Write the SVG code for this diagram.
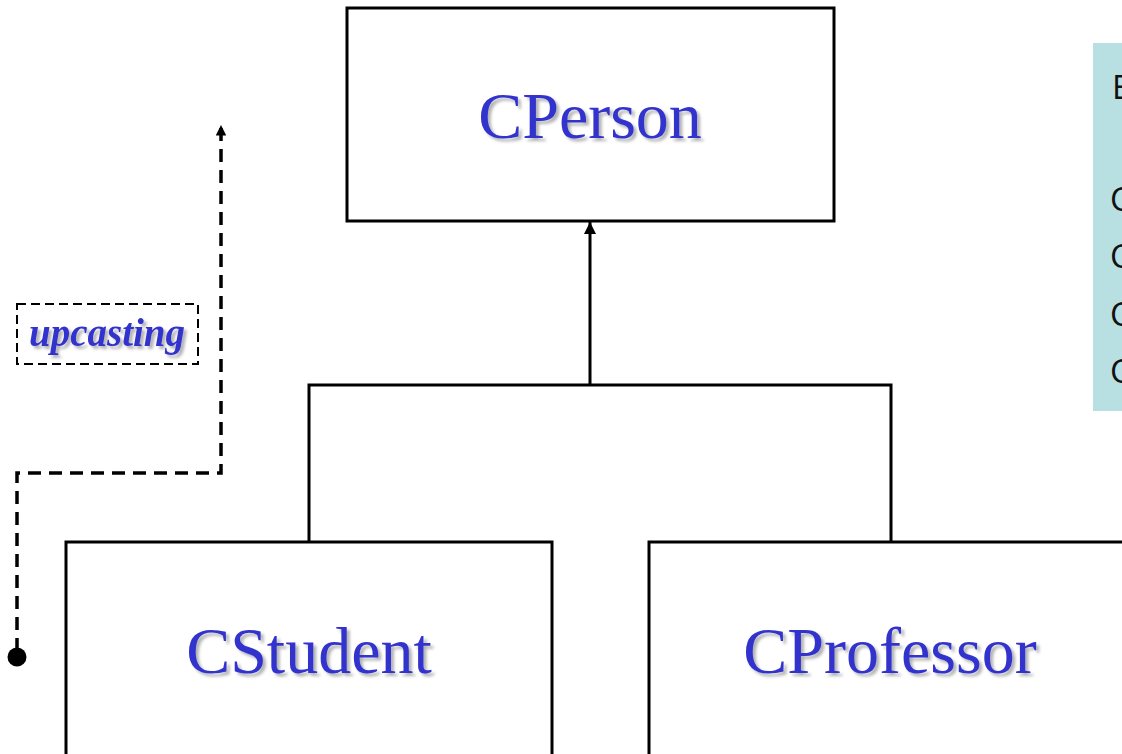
<svg xmlns="http://www.w3.org/2000/svg" width="1122" height="754" viewBox="0 0 1122 754">
<defs>
<style>
.box{fill:#fff;stroke:#000;stroke-width:3}
.lbl{font-family:"Liberation Serif","Times New Roman",serif;fill:#3333cc;text-anchor:middle;filter:url(#sh)}
.side{font-family:"Open Sans","Liberation Sans",sans-serif;font-size:33px;fill:#111}
.conn{fill:none;stroke:#000;stroke-width:3}
.dash{fill:none;stroke:#000;stroke-width:3.5;stroke-dasharray:13 8}
</style>
<filter id="sh" x="-10%" y="-20%" width="130%" height="150%">
<feDropShadow dx="3" dy="3" stdDeviation="1.5" flood-color="#000" flood-opacity="0.3"/>
</filter>
<marker id="ah" viewBox="0 0 10 10" refX="10" refY="5" markerWidth="4" markerHeight="4" orient="auto" markerUnits="strokeWidth">
<path d="M0,0 L10,5 L0,10 Z" fill="#000"/>
</marker>
<marker id="ahd" viewBox="0 0 10 10" refX="10" refY="5" markerWidth="3" markerHeight="3" orient="auto" markerUnits="strokeWidth">
<path d="M0,0 L10,5 L0,10 Z" fill="#000"/>
</marker>
</defs>
<rect width="1122" height="754" fill="#fff"/>
<g id="side-panel">
<rect x="1093" y="43" width="40" height="368" fill="#b8e0e2"/>
<text class="side" x="1112" y="99" font-size="46">E</text>
<text class="side" x="1110" y="211">C</text>
<text class="side" x="1110" y="268">C</text>
<text class="side" x="1110" y="326">C</text>
<text class="side" x="1110" y="383">C</text>
</g>
<g id="connectors">
<path class="conn" d="M309,542 V385 H891 V542 M590,385 V222" marker-end="url(#ah)"/>
<path class="dash" d="M17,651 V473 H221 V125" marker-end="url(#ahd)"/>
<circle cx="17" cy="657" r="9.5" fill="#000"/>
</g>
<g id="CPerson">
<rect class="box" x="347" y="8" width="487" height="213"/>
<text class="lbl" x="590" y="138" font-size="66">CPerson</text>
</g>
<g id="CStudent">
<rect class="box" x="66" y="542" width="486" height="230"/>
<text class="lbl" x="309" y="673" font-size="66">CStudent</text>
</g>
<g id="CProfessor">
<rect class="box" x="649" y="542" width="500" height="230"/>
<text class="lbl" x="890" y="673" font-size="66">CProfessor</text>
</g>
<g id="upcasting">
<rect x="17" y="304" width="181" height="60" fill="none" stroke="#000" stroke-width="2" stroke-dasharray="9 5"/>
<text class="lbl" x="107" y="346" font-size="39" font-weight="bold" font-style="italic">upcasting</text>
</g>
</svg>
